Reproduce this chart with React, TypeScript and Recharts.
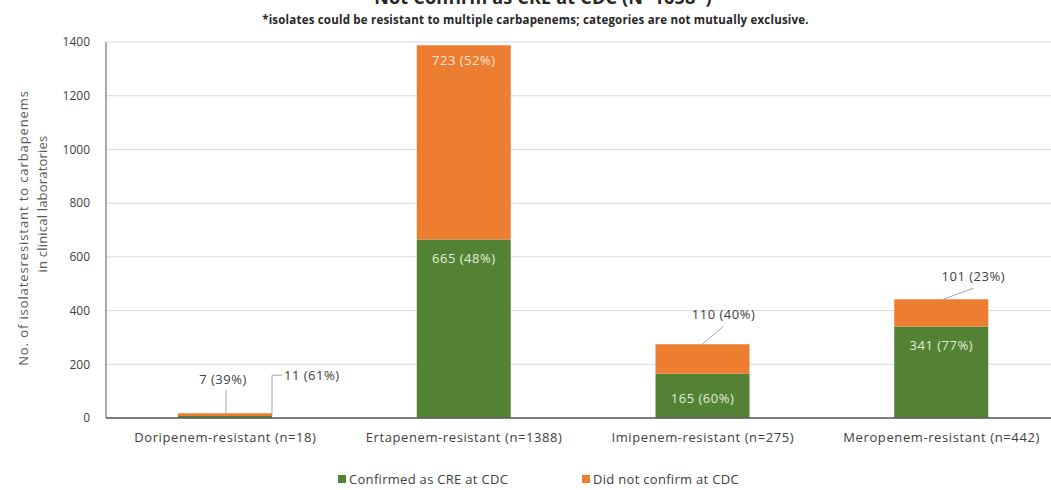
import { BarChart, Bar, XAxis, YAxis, CartesianGrid, LabelList } from 'recharts'

const categories = [
  'Doripenem-resistant (n=18)',
  'Ertapenem-resistant (n=1388)',
  'Imipenem-resistant (n=275)',
  'Meropenem-resistant (n=442)',
]
const confirmed = [7, 665, 165, 341]
const notConfirmed = [11, 723, 110, 101]
const confirmedPct = [39, 48, 60, 77]
const notConfirmedPct = [61, 52, 40, 23]
const yTicks = [0, 200, 400, 600, 800, 1000, 1200, 1400]

const GREEN = '#548235'
const ORANGE = '#ED7D31'
const FONT = '"Open Sans", sans-serif'

const series = [
  { key: 'confirmed', name: 'Confirmed as CRE at CDC', color: GREEN },
  { key: 'notConfirmed', name: 'Did not confirm at CDC', color: ORANGE },
]

const data = categories.map((name, i) => ({
  name,
  confirmed: confirmed[i],
  notConfirmed: notConfirmed[i],
}))

const labelStyle = { fontSize: 13, letterSpacing: 0.5, fontFamily: FONT }

// eslint-disable-next-line @typescript-eslint/no-explicit-any
const greenLabel = (props: any) => {
  const { x, y, width, index } = props
  const text = `${confirmed[index]} (${confirmedPct[index]}%)`
  const cx = x + width / 2
  if (index === 0) {
    return (
      <g>
        <line x1={cx + 1} y1={y - 1} x2={cx + 1} y2={y - 26} stroke="#a6a6a6" />
        <text x={cx - 2} y={y - 37} textAnchor="middle" dominantBaseline="central" fill="#404040" style={labelStyle}>
          {text}
        </text>
      </g>
    )
  }
  const off = index === 2 ? 24 : 19
  return (
    <text x={cx} y={y + off} textAnchor="middle" dominantBaseline="central" fill="#E2EFDA" style={labelStyle}>
      {text}
    </text>
  )
}

// eslint-disable-next-line @typescript-eslint/no-explicit-any
const orangeLabel = (props: any) => {
  const { x, y, width, index } = props
  const text = `${notConfirmed[index]} (${notConfirmedPct[index]}%)`
  const cx = x + width / 2
  if (index === 0) {
    const lx = x + width
    return (
      <g>
        <polyline points={`${lx},${y + 2} ${lx},${y - 38} ${lx + 10},${y - 38}`} fill="none" stroke="#a6a6a6" />
        <text x={lx + 12} y={y - 38} textAnchor="start" dominantBaseline="central" fill="#404040" style={labelStyle}>
          {text}
        </text>
      </g>
    )
  }
  if (index === 1) {
    return (
      <text x={cx} y={y + 15} textAnchor="middle" dominantBaseline="central" fill="#FBE5D6" style={labelStyle}>
        {text}
      </text>
    )
  }
  const dx = index === 2 ? 21 : 32
  const sx = index === 2 ? 0 : 2
  const dy = index === 2 ? 18 : 11
  return (
    <g>
      <line x1={cx + sx} y1={y} x2={cx + dx} y2={y - dy} stroke="#a6a6a6" />
      <text x={cx + dx} y={y - dy - 12} textAnchor="middle" dominantBaseline="central" fill="#404040" style={labelStyle}>
        {text}
      </text>
    </g>
  )
}

const yLabel = () => (
  <g fontFamily={FONT} fontSize={13} fill="#595959">
    <text x={23} y={228} transform="rotate(-90 23 228)" textAnchor="middle" dominantBaseline="central" style={{ letterSpacing: 0.9 }}>
      No. of isolatesresistant to carbapenems
    </text>
    <text x={42} y={204} transform="rotate(-90 42 204)" textAnchor="middle" dominantBaseline="central" style={{ letterSpacing: 0.2 }}>
      in clinical laboratories
    </text>
  </g>
)

export default function App() {
  return (
    <div style={{ position: 'absolute', left: 0, top: 0, width: 1051, height: 490, overflow: 'hidden', background: '#fff', fontFamily: FONT }}>
      <div style={{ position: 'absolute', top: -15, left: 0, width: 1086, textAlign: 'center', fontSize: 18, fontWeight: 700, color: '#262626', lineHeight: '24px', letterSpacing: 0.2 }}>
        Not Confirm as CRE at CDC (N=1658*)
      </div>
      <div style={{ position: 'absolute', top: 12, left: 0, width: 1071, textAlign: 'center', fontSize: 11.5, fontWeight: 700, color: '#262626', lineHeight: '16px', letterSpacing: 0.2 }}>
        *isolates could be resistant to multiple carbapenems; categories are not mutually exclusive.
      </div>
      <BarChart width={1061} height={490} data={data} margin={{ top: 42, right: 0, left: 0, bottom: 42 }}>
        <CartesianGrid vertical={false} stroke="#d9d9d9" />
        <XAxis
          dataKey="name"
          interval={0}
          height={30}
          tickLine={false}
          tickSize={0}
          tickMargin={15}
          axisLine={{ stroke: '#595959', strokeWidth: 1.5 }}
          tick={{ fontSize: 13, fill: '#404040', fontFamily: FONT, letterSpacing: 0.6 }}
        />
        <YAxis
          width={106}
          domain={[0, 1400]}
          ticks={yTicks}
          interval={0}
          tickLine={false}
          tickSize={0}
          tickMargin={16}
          axisLine={{ stroke: '#595959' }}
          tick={{ fontSize: 12, fill: '#404040', fontFamily: FONT }}
          label={{ content: yLabel }}
        />
        <Bar dataKey="confirmed" name={series[0].name} stackId="a" fill={GREEN} barSize={94} isAnimationActive={false}>
          <LabelList dataKey="confirmed" content={greenLabel} />
        </Bar>
        <Bar dataKey="notConfirmed" name={series[1].name} stackId="a" fill={ORANGE} barSize={94} isAnimationActive={false}>
          <LabelList dataKey="notConfirmed" content={orangeLabel} />
        </Bar>
      </BarChart>
      <div style={{ position: 'absolute', top: 471, left: 0, width: 1051, height: 16, fontSize: 13, color: '#404040', letterSpacing: 0.3 }}>
        {series.map((s, i) => (
          <div key={s.key} style={{ position: 'absolute', left: i === 0 ? 338 : 582, top: 0, display: 'flex', alignItems: 'center', whiteSpace: 'nowrap', lineHeight: '16px' }}>
            <span style={{ display: 'inline-block', width: 8, height: 8, background: s.color, marginRight: 3 }} />
            {s.name}
          </div>
        ))}
      </div>
    </div>
  )
}
